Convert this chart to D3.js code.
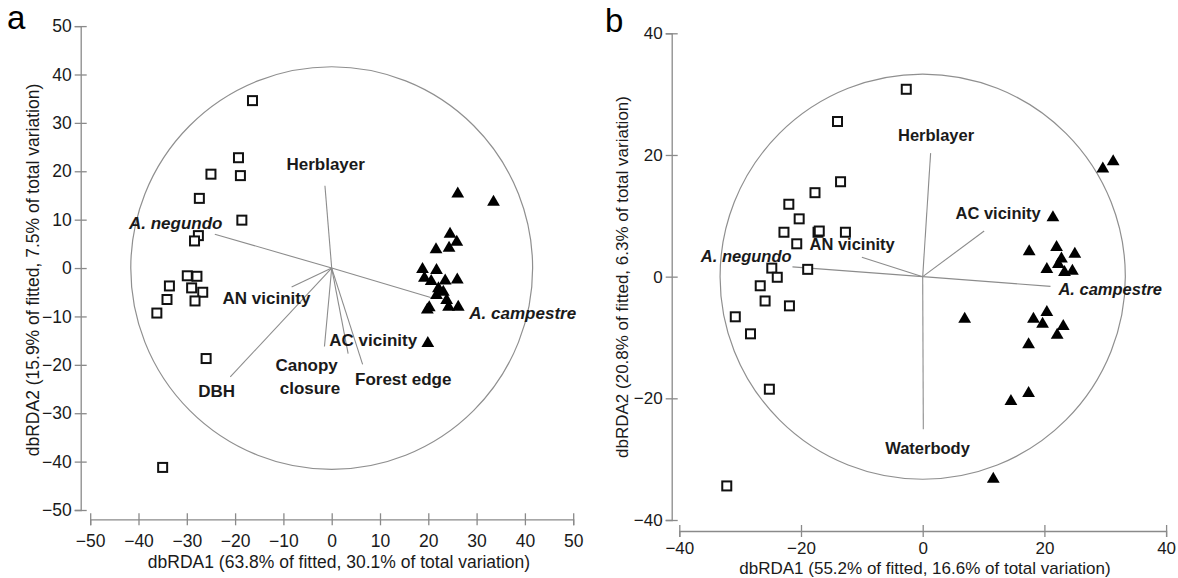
<!DOCTYPE html>
<html><head><meta charset="utf-8">
<script src="https://cdn.jsdelivr.net/npm/d3@7"></script>
<style>
body{margin:0;background:#fff;}
svg{display:block;font-family:"Liberation Sans",Arial,sans-serif;}
</style></head>
<body><svg id="c" width="1178" height="578"></svg>
<script>
// ---------- Panel a data ----------
const aNegundoPtsA = [[-16.4,34.6],[-19.3,22.8],[-18.9,19.1],[-25.0,19.4],[-27.4,14.4],[-18.6,9.9],[-27.6,6.7],[-28.4,5.6],[-29.9,-1.6],[-27.9,-1.7],[-33.6,-3.7],[-29.0,-4.1],[-26.7,-5.0],[-34.1,-6.5],[-28.3,-6.8],[-36.2,-9.3],[-26.0,-18.7],[-35.0,-41.2]];
const aCampestrePtsA = [[26.1,15.7],[33.5,14.0],[24.5,7.4],[25.9,5.7],[21.6,4.2],[24.3,4.5],[18.8,0.1],[21.7,-0.1],[19.2,-1.7],[23.5,-2.3],[26.0,-2.1],[20.6,-2.4],[22.1,-3.9],[21.7,-5.3],[23.1,-4.6],[23.8,-6.3],[19.8,-8.3],[20.2,-7.8],[24.2,-7.7],[26.2,-7.7],[19.9,-15.2]];
const vectorNamesA = ["A. negundo","A. campestre","Herblayer","AN vicinity","DBH","Canopy closure","AC vicinity","Forest edge"];
const vectorEndsA = [[-24.2,7.0],[20.5,-6.1],[-1.4,17.0],[-8.3,-3.9],[-21.0,-22.5],[-1.5,-16.2],[3.4,-17.7],[6.4,-19.9]];
const labelTextsA = ["Herblayer","A. negundo","AN vicinity","AC vicinity","Canopy","closure","Forest edge","DBH","A. campestre"];
const labelPosA = [[-1.25,21.5],[-32.3,9.2],[-13.5,-6.3],[8.6,-14.8],[-5.2,-20.1],[-4.5,-24.7],[14.8,-22.9],[-23.8,-25.4],[28.5,-9.2]];
const ticksA = [-50,-40,-30,-20,-10,0,10,20,30,40,50];
const circleRA = 41.6;
const xTitleA = "dbRDA1 (63.8% of fitted, 30.1% of total variation)";
const yTitleA = "dbRDA2 (15.9% of fitted, 7.5% of total variation)";

// ---------- Panel b data ----------
const aNegundoPtsB = [[-2.7,30.8],[-14.0,25.5],[-13.5,15.6],[-17.7,13.8],[-22.0,11.9],[-20.3,9.5],[-22.8,7.3],[-17.2,7.3],[-17.0,7.5],[-12.7,7.3],[-20.7,5.4],[-24.8,1.4],[-18.9,1.2],[-23.9,-0.1],[-26.7,-1.5],[-25.9,-4.0],[-21.9,-4.8],[-30.8,-6.6],[-28.3,-9.4],[-25.2,-18.5],[-32.2,-34.4]];
const aCampestrePtsB = [[31.3,19.2],[29.6,18.0],[21.4,10.0],[22.0,5.1],[17.5,4.4],[25.0,4.0],[22.8,3.2],[22.3,2.3],[20.4,1.5],[23.3,1.0],[24.6,1.2],[6.9,-6.7],[20.4,-5.6],[18.2,-6.7],[19.7,-7.5],[23.1,-7.9],[22.1,-9.3],[17.4,-10.9],[17.4,-18.9],[14.5,-20.2],[11.6,-33.0]];
const vectorNamesB = ["Herblayer","AC vicinity","AN vicinity","A. negundo","A. campestre","Waterbody"];
const vectorEndsB = [[1.3,20.3],[10.1,7.5],[-10.0,3.2],[-21.4,1.6],[21.0,-1.6],[0.1,-25.1]];
const labelTextsB = ["Herblayer","AC vicinity","AN vicinity","A. negundo","A. campestre","Waterbody"];
const labelPosB = [[2.2,23.2],[12.4,10.5],[-11.6,5.3],[-29.0,3.3],[22.3,-2.1],[0.8,-28.2]];
const ticksB = [-40,-20,0,20,40];
const circleRB = 33.3;
const xTitleB = "dbRDA1 (55.2% of fitted, 16.6% of total variation)";
const yTitleB = "dbRDA2 (20.8% of fitted, 6.3% of total variation)";

const svg = d3.select("#c");
const AX = "#8a8a8a", TXT = "#1a1a1a";

function panel(o){
  const g = svg.append("g");
  const x = d3.scaleLinear().domain(o.dom).range(o.xr);
  const y = d3.scaleLinear().domain(o.dom).range(o.yr);
  const xa = g.append("g").attr("transform",`translate(0,${o.xAxisY})`)
    .call(d3.axisBottom(x).tickValues(o.ticks).tickSizeOuter(0).tickSize(6).tickPadding(o.xPad));
  xa.selectAll(".tick line").attr("y1",-6).attr("y2",6);
  const ya = g.append("g").attr("transform",`translate(${o.yAxisX},0)`)
    .call(d3.axisLeft(y).tickValues(o.ticks).tickSizeOuter(0).tickSize(6).tickPadding(3));
  ya.selectAll(".tick line").attr("x1",-6).attr("x2",6);
  [xa,ya].forEach(a=>{
    a.select(".domain").attr("stroke",AX).attr("stroke-width",1.3);
    a.selectAll(".tick line").attr("stroke",AX).attr("stroke-width",1.3);
    a.selectAll(".tick text").attr("fill",TXT).style("font-size",o.tickSize+"px").style("font-family","'Liberation Sans',Arial,sans-serif");
  });
  g.append("text").attr("x",o.xTitlePos[0]).attr("y",o.xTitlePos[1]).attr("dy","0.35em")
    .attr("text-anchor","middle").attr("fill",TXT).style("font-size",o.titleSize+"px").text(o.xTitle);
  g.append("text").attr("transform",`translate(${o.yTitlePos[0]},${o.yTitlePos[1]}) rotate(-90)`).attr("dy","0.35em")
    .attr("text-anchor","middle").attr("fill",TXT).style("font-size",o.titleSize+"px").text(o.yTitle);
  g.append("text").attr("x",o.letterPos[0]).attr("y",o.letterPos[1]).attr("fill","#000")
    .style("font-size","33px").text(o.letter);
  g.append("ellipse").attr("cx",x(0)).attr("cy",y(0))
    .attr("rx",x(o.r)-x(0)).attr("ry",y(0)-y(o.r))
    .attr("fill","none").attr("stroke","#8f8f8f").attr("stroke-width",1.2);
  g.selectAll("line.vec").data(o.vectors).join("line").attr("class","vec")
    .attr("x1",x(0)).attr("y1",y(0)).attr("x2",d=>x(d[0])).attr("y2",d=>y(d[1]))
    .attr("stroke","#8c8c8c").attr("stroke-width",1.1);
  const s = 9;
  g.selectAll("rect.sq").data(o.squares).join("rect").attr("class","sq")
    .attr("x",d=>x(d[0])-s/2).attr("y",d=>y(d[1])-s/2).attr("width",s).attr("height",s)
    .attr("fill","#fff").attr("stroke","#111").attr("stroke-width",2);
  g.selectAll("path.tri").data(o.triangles).join("path").attr("class","tri")
    .attr("transform",d=>`translate(${x(d[0])},${y(d[1])})`)
    .attr("d","M0,-5.6L6.4,5.4L-6.4,5.4Z").attr("fill","#000");
  o.labels.forEach((t,i)=>{
    const sp = t.startsWith("A. ");
    g.append("text").attr("x",x(o.labelPos[i][0])).attr("y",y(o.labelPos[i][1])).attr("dy","0.35em")
      .attr("text-anchor", t==="A. campestre" ? "start" : "middle")
      .attr("fill",TXT).style("font-size",o.labelSize+"px").style("font-weight","bold")
      .style("font-style", sp ? "italic" : "normal").text(t);
  });
}

panel({dom:[-50,50], xr:[90.2,573.2], yr:[510,26.1], ticks:ticksA, xAxisY:519.3, yAxisX:80.7, xPad:9,
  tickSize:17.5, titleSize:17.5,
  xTitle:xTitleA, yTitle:yTitleA, xTitlePos:[339,562], yTitlePos:[33,270], letter:"a", letterPos:[7,29],
  r:circleRA, vectors:vectorEndsA, squares:aNegundoPtsA, triangles:aCampestrePtsA,
  labels:labelTextsA, labelPos:labelPosA, labelSize:17});
panel({dom:[-40,40], xr:[679.3,1166.1], yr:[520,33.3], ticks:ticksB, xAxisY:531, yAxisX:671.7, xPad:5,
  tickSize:17, titleSize:17,
  xTitle:xTitleB, yTitle:yTitleB, xTitlePos:[925,568.5], yTitlePos:[622,277], letter:"b", letterPos:[605,32],
  r:circleRB, vectors:vectorEndsB, squares:aNegundoPtsB, triangles:aCampestrePtsB,
  labels:labelTextsB, labelPos:labelPosB, labelSize:16.5});
</script></body></html>
